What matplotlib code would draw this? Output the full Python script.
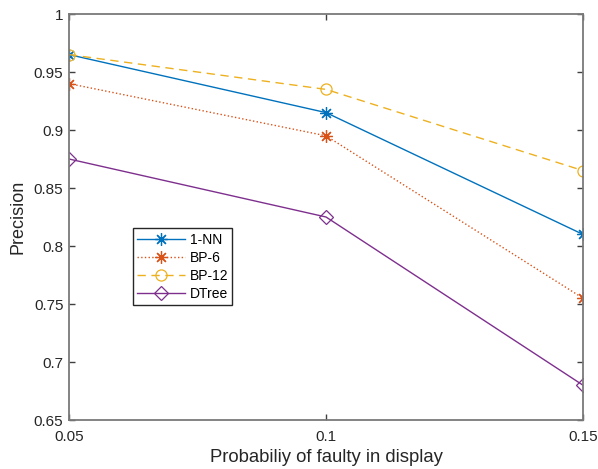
import matplotlib
matplotlib.use("Agg")
from matplotlib import pyplot as plt

plt.rcParams['font.family'] = ['Liberation Sans', 'DejaVu Sans']

# data
prob = [0.05, 0.1, 0.15]
nn1 = [0.965, 0.915, 0.81]
bp6 = [0.94, 0.895, 0.755]
bp12 = [0.965, 0.935, 0.865]
dtree = [0.875, 0.825, 0.68]
yticks = [0.65, 0.7, 0.75, 0.8, 0.85, 0.9, 0.95, 1]
xticks = [0.05, 0.1, 0.15]

fig = plt.figure(figsize=[5.98, 4.69], dpi=100, facecolor="white")
ax = fig.add_axes([69/598, 1 - 420/469, 514/598, 406/469])

# MATLAB-like asterisk: 8 arms
ast = (8, 2, 0)
ax.plot(prob, nn1, color="#0072BD", ls="-", lw=1.0, marker=ast, ms=9, mew=0.9, label="1-NN")
ax.plot(prob, bp6, color="#D95319", ls=":", lw=1.0, marker=ast, ms=9, mew=0.9, label="BP-6")
ax.plot(prob, bp12, color="#EDB120", ls=(0, (6, 4)), lw=1.0, marker="o", ms=8, mfc="none", mew=0.9, label="BP-12")
ax.plot(prob, dtree, color="#7E2F8E", ls="-", lw=1.0, marker="D", ms=7, mfc="none", mew=0.9, label="DTree")

ax.set_xlim(0.05, 0.15)
ax.set_ylim(0.65, 1)
ax.set_xticks(xticks)
ax.set_xticklabels(["0.05", "0.1", "0.15"])
ax.set_yticks(yticks)
ax.set_yticklabels(["0.65", "0.7", "0.75", "0.8", "0.85", "0.9", "0.95", "1"])
ax.tick_params(direction="in", length=4, width=1, colors="#404040", labelsize=11,
               top=True, right=True, labelcolor="#262626")
ax.tick_params(axis="x", pad=7)
ax.tick_params(axis="y", pad=4)
for s in ax.spines.values():
    s.set_color("#7a7a7a")
    s.set_linewidth(1.3)

ax.set_xlabel("Probabiliy of faulty in display", fontsize=13.3, color="#262626", labelpad=4)
ax.set_ylabel("Precision", fontsize=13, color="#262626", labelpad=5)

leg = ax.legend(loc="upper left", bbox_to_anchor=(0.124, 0.472),
                fontsize=10, fancybox=False, framealpha=1, borderpad=0.3,
                handlelength=3.45, labelspacing=0.3, handletextpad=0.35,
                borderaxespad=0)
leg.get_frame().set_edgecolor("#262626")
leg.get_frame().set_linewidth(1.0)

plt.savefig("out.png", dpi=100)
